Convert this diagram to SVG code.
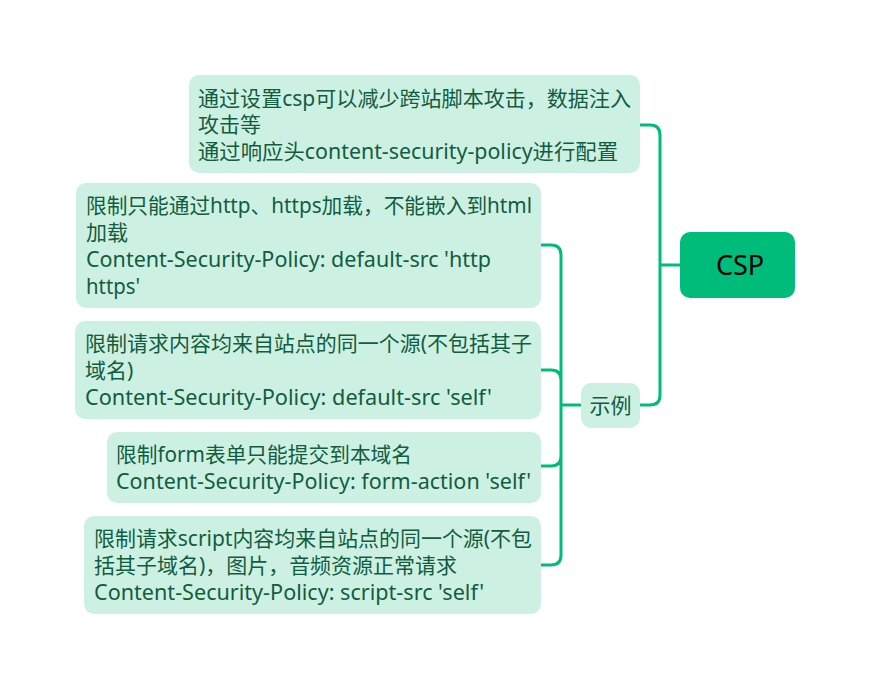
<svg xmlns="http://www.w3.org/2000/svg" width="870" height="690" viewBox="0 0 870 690">
<style>
.box{fill:#CCF1E3}
.t{font-family:"Noto Sans","Noto Sans CJK SC",sans-serif;font-size:21px;fill:#135C3F}
.c{fill:none;stroke:#00BC7B;stroke-width:3;stroke-linecap:round}
.root{fill:#00BC7B}
.rt{font-family:"Noto Sans","Noto Sans CJK SC",sans-serif;font-size:27px;fill:#000}
</style>
<rect width="870" height="690" fill="#fff"/>
<g id="connectors">
<path class="c" d="M680 265 H660 M660 265 V135 Q660 125 650 125 H640 M660 265 V395 Q660 405 650 405 H640"/>
<path class="c" d="M581 405 H561 M561 405 V255 Q561 245 551 245 H541 M561 405 V380 Q561 370 551 370 H541 M561 405 V456 Q561 466 551 466 H541 M561 405 V555 Q561 565 551 565 H541"/>
</g>
<g id="root">
<rect class="root" x="680" y="232" width="115" height="66" rx="10"/>
<text class="rt" x="740" y="275" text-anchor="middle">CSP</text>
</g>
<g id="n1">
<rect class="box" x="189" y="75" width="451" height="98" rx="10"/>
<text class="t" x="198" y="106" textLength="433" lengthAdjust="spacingAndGlyphs">通过设置csp可以减少跨站脚本攻击，数据注入</text>
<text class="t" x="198" y="132">攻击等</text>
<text class="t" x="198" y="159" textLength="420" lengthAdjust="spacingAndGlyphs">通过响应头content-security-policy进行配置</text>
</g>
<g id="example">
<rect class="box" x="581" y="383" width="59" height="45" rx="10"/>
<text class="t" x="610.5" y="413" text-anchor="middle">示例</text>
</g>
<g id="n2">
<rect class="box" x="76" y="183" width="465" height="125" rx="10"/>
<text class="t" x="86" y="213" textLength="446" lengthAdjust="spacingAndGlyphs">限制只能通过http、https加载，不能嵌入到html</text>
<text class="t" x="86" y="240">加载</text>
<text class="t" x="86" y="267" textLength="405" lengthAdjust="spacingAndGlyphs">Content-Security-Policy: default-src 'http</text>
<text class="t" x="86" y="294" textLength="54" lengthAdjust="spacingAndGlyphs">https'</text>
</g>
<g id="n3">
<rect class="box" x="75" y="321" width="466" height="98" rx="10"/>
<text class="t" x="85" y="351" textLength="447" lengthAdjust="spacingAndGlyphs">限制请求内容均来自站点的同一个源(不包括其子</text>
<text class="t" x="85" y="378">域名)</text>
<text class="t" x="85" y="405" textLength="407" lengthAdjust="spacingAndGlyphs">Content-Security-Policy: default-src 'self'</text>
</g>
<g id="n4">
<rect class="box" x="107" y="432" width="434" height="71" rx="10"/>
<text class="t" x="116" y="462" textLength="296" lengthAdjust="spacingAndGlyphs">限制form表单只能提交到本域名</text>
<text class="t" x="116" y="489" textLength="415" lengthAdjust="spacingAndGlyphs">Content-Security-Policy: form-action 'self'</text>
</g>
<g id="n5">
<rect class="box" x="84" y="516" width="457" height="98" rx="10"/>
<text class="t" x="94" y="546" textLength="438" lengthAdjust="spacingAndGlyphs">限制请求script内容均来自站点的同一个源(不包</text>
<text class="t" x="94" y="573" textLength="363" lengthAdjust="spacingAndGlyphs">括其子域名)，图片，音频资源正常请求</text>
<text class="t" x="94" y="600" textLength="390" lengthAdjust="spacingAndGlyphs">Content-Security-Policy: script-src 'self'</text>
</g>
</svg>
